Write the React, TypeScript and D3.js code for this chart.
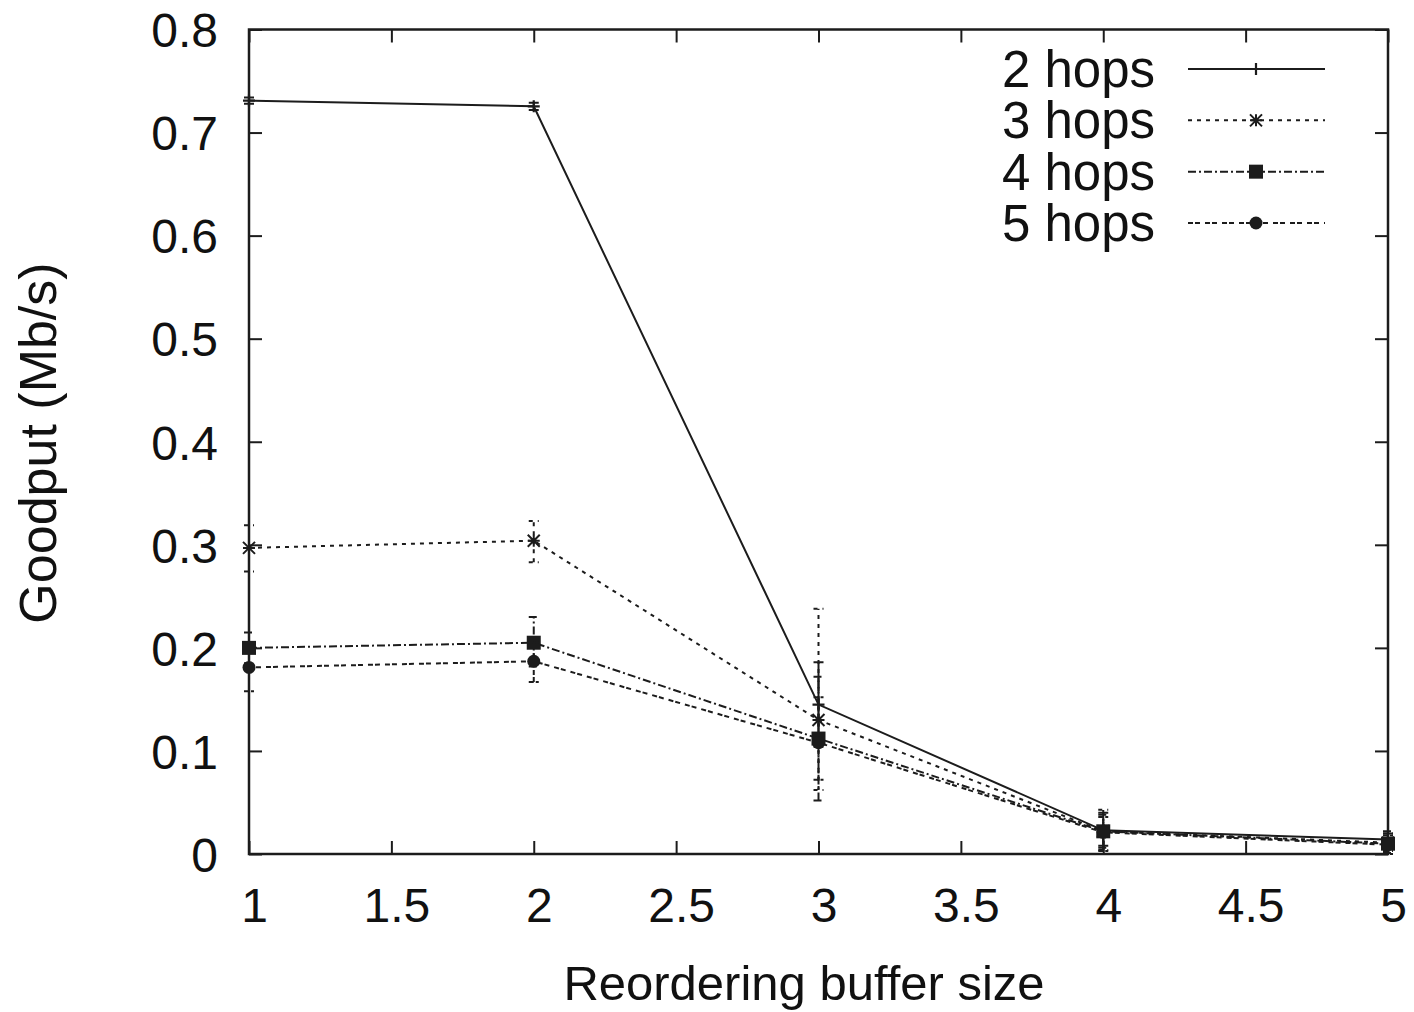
import { useRef, useEffect } from 'react';
import * as d3 from 'd3';

// Reordering buffer size vs goodput, one series per hop count
const bufferSizes = [1, 2, 3, 4, 5];
const seriesNames = ['2 hops', '3 hops', '4 hops', '5 hops'];

const goodput2 = [0.731, 0.7255, 0.145, 0.023, 0.014];
const goodput3 = [0.297, 0.304, 0.130, 0.022, 0.011];
const goodput4 = [0.200, 0.205, 0.112, 0.022, 0.010];
const goodput5 = [0.181, 0.187, 0.108, 0.021, 0.009];

const low2 = [0.728, 0.722, 0.104, 0.008, 0.008];
const high2 = [0.734, 0.729, 0.186, 0.040, 0.020];
const low3 = [0.274, 0.283, 0.062, 0.004, 0.003];
const high3 = [0.319, 0.323, 0.238, 0.043, 0.020];
const low4 = [0.185, 0.182, 0.052, 0.006, 0.001];
const high4 = [0.215, 0.230, 0.172, 0.038, 0.022];
const low5 = [0.158, 0.167, 0.072, 0.003, 0.000];
const high5 = [0.198, 0.205, 0.152, 0.036, 0.018];

const xTickValues = [1, 1.5, 2, 2.5, 3, 3.5, 4, 4.5, 5];
const xTickLabels = ['1', '1.5', '2', '2.5', '3', '3.5', '4', '4.5', '5'];
const yTickValues = [0, 0.1, 0.2, 0.3, 0.4, 0.5, 0.6, 0.7, 0.8];
const yTickLabels = ['0', '0.1', '0.2', '0.3', '0.4', '0.5', '0.6', '0.7', '0.8'];

const FONT = '"Liberation Sans", Arial, Helvetica, sans-serif';
const INK = '#1c1c1c';

type Marker = 'plus' | 'star' | 'square' | 'circle';

const series = [
  { name: seriesNames[0], values: goodput2, low: low2, high: high2, dash: null, marker: 'plus' as Marker },
  { name: seriesNames[1], values: goodput3, low: low3, high: high3, dash: '4,5', marker: 'star' as Marker },
  { name: seriesNames[2], values: goodput4, low: low4, high: high4, dash: '8,3,2,3', marker: 'square' as Marker },
  { name: seriesNames[3], values: goodput5, low: low5, high: high5, dash: '5,2,5,5', marker: 'circle' as Marker },
];

function drawMarker(g: d3.Selection<SVGGElement, unknown, null, undefined>, kind: Marker, cx: number, cy: number) {
  if (kind === 'plus') {
    g.append('path')
      .attr('d', `M${cx - 6},${cy}H${cx + 6}M${cx},${cy - 6}V${cy + 6}`)
      .attr('stroke', INK).attr('stroke-width', 2.2);
  } else if (kind === 'star') {
    const r = 6;
    g.append('path')
      .attr('d', `M${cx - r},${cy}H${cx + r}M${cx},${cy - r}V${cy + r}M${cx - r},${cy - r}L${cx + r},${cy + r}M${cx - r},${cy + r}L${cx + r},${cy - r}`)
      .attr('stroke', INK).attr('stroke-width', 2);
  } else if (kind === 'square') {
    g.append('rect')
      .attr('x', cx - 7).attr('y', cy - 7).attr('width', 14).attr('height', 14)
      .attr('fill', INK);
  } else {
    g.append('circle').attr('cx', cx).attr('cy', cy).attr('r', 6.5).attr('fill', INK);
  }
}

export default function App() {
  const svgRef = useRef<SVGSVGElement>(null);
  const width = 1414;
  const height = 1012;

  useEffect(() => {
    const svg = d3.select(svgRef.current);
    svg.selectAll('*').remove();

    const margin = { top: 29.5, right: 26, bottom: 158, left: 249 };
    const x = d3.scaleLinear().domain([1, 5]).range([margin.left, width - margin.right]);
    const y = d3.scaleLinear().domain([0, 0.8]).range([height - margin.bottom, margin.top]);
    const [x0, x1] = x.range();
    const [y0, y1] = y.range();

    const fontSize = 48;

    // Axes, ticks pointing inward and mirrored on the opposite side
    const left = svg.append('g')
      .attr('transform', 'translate(' + x0 + ',0)')
      .call(d3.axisLeft(y).tickValues(yTickValues)
        .tickFormat((d, i) => yTickLabels[i]).tickSize(-13).tickPadding(31).tickSizeOuter(0));
    left.selectAll('text').attr('dy', '0.36em');

    const bottom = svg.append('g')
      .attr('transform', 'translate(0,' + y0 + ')')
      .call(d3.axisBottom(x).tickValues(xTickValues)
        .tickFormat((d, i) => xTickLabels[i]).tickSize(-13).tickPadding(34).tickSizeOuter(0));
    bottom.selectAll('text').attr('dx', 5);

    svg.append('g')
      .attr('transform', 'translate(' + x1 + ',0)')
      .call(d3.axisRight(y).tickValues(yTickValues).tickFormat(() => '').tickSize(-13).tickSizeOuter(0));
    svg.append('g')
      .attr('transform', 'translate(0,' + y1 + ')')
      .call(d3.axisTop(x).tickValues(xTickValues).tickFormat(() => '').tickSize(-13).tickSizeOuter(0));

    svg.selectAll('.domain').remove();
    svg.selectAll('.tick line').attr('stroke', INK).attr('stroke-width', 2);
    [left, bottom].forEach(a => a.selectAll('text')
      .attr('font-family', FONT).attr('font-size', fontSize).attr('fill', '#111'));

    svg.append('rect')
      .attr('x', x0).attr('y', y1).attr('width', x1 - x0).attr('height', y0 - y1)
      .attr('fill', 'none').attr('stroke', INK).attr('stroke-width', 2.5);

    // Axis titles
    svg.append('text')
      .attr('x', 804).attr('y', 1000)
      .attr('text-anchor', 'middle')
      .attr('font-family', FONT).attr('font-size', 49).attr('fill', '#111')
      .text('Reordering buffer size');
    svg.append('text')
      .attr('transform', 'translate(56,443) rotate(-90)')
      .attr('text-anchor', 'middle')
      .attr('font-family', FONT).attr('font-size', 52).attr('fill', '#111')
      .text('Goodput (Mb/s)');

    // Series: line, error bars, markers
    const line = d3.line<number>()
      .x((d, i) => x(bufferSizes[i]))
      .y(d => y(d));

    series.forEach(s => {
      const g = svg.append('g');
      const path = g.append('path')
        .attr('d', line(s.values))
        .attr('fill', 'none').attr('stroke', INK).attr('stroke-width', 2);
      if (s.dash) path.attr('stroke-dasharray', s.dash);

      bufferSizes.forEach((b, i) => {
        const cx = x(b);
        const ylo = y(s.low[i]);
        const yhi = y(s.high[i]);
        const eb = g.append('path')
          .attr('d', `M${cx},${ylo}V${yhi}M${cx - 5},${ylo}H${cx + 5}M${cx - 5},${yhi}H${cx + 5}`)
          .attr('fill', 'none').attr('stroke', INK).attr('stroke-width', 2);
        if (s.dash) eb.attr('stroke-dasharray', s.dash);
        drawMarker(g, s.marker, cx, y(s.values[i]));
      });
    });

    // Legend
    const legendRow = d3.scalePoint<string>().domain(seriesNames).range([69, 223]);
    series.forEach(s => {
      const ly = legendRow(s.name) as number;
      const g = svg.append('g');
      g.append('text')
        .attr('x', 1155).attr('y', ly + 18)
        .attr('text-anchor', 'end')
        .attr('font-family', FONT).attr('font-size', 51).attr('fill', '#111')
        .text(s.name);
      const p = g.append('path')
        .attr('d', `M1188,${ly}H1325`)
        .attr('stroke', INK).attr('stroke-width', 2);
      if (s.dash) p.attr('stroke-dasharray', s.dash);
      drawMarker(g, s.marker, 1256, ly);
    });
  }, []);

  return (
    <div style={{ position: 'absolute', left: 0, top: 0, background: '#fff' }}>
      <svg ref={svgRef} width={width} height={height} style={{ display: 'block' }} />
    </div>
  );
}
